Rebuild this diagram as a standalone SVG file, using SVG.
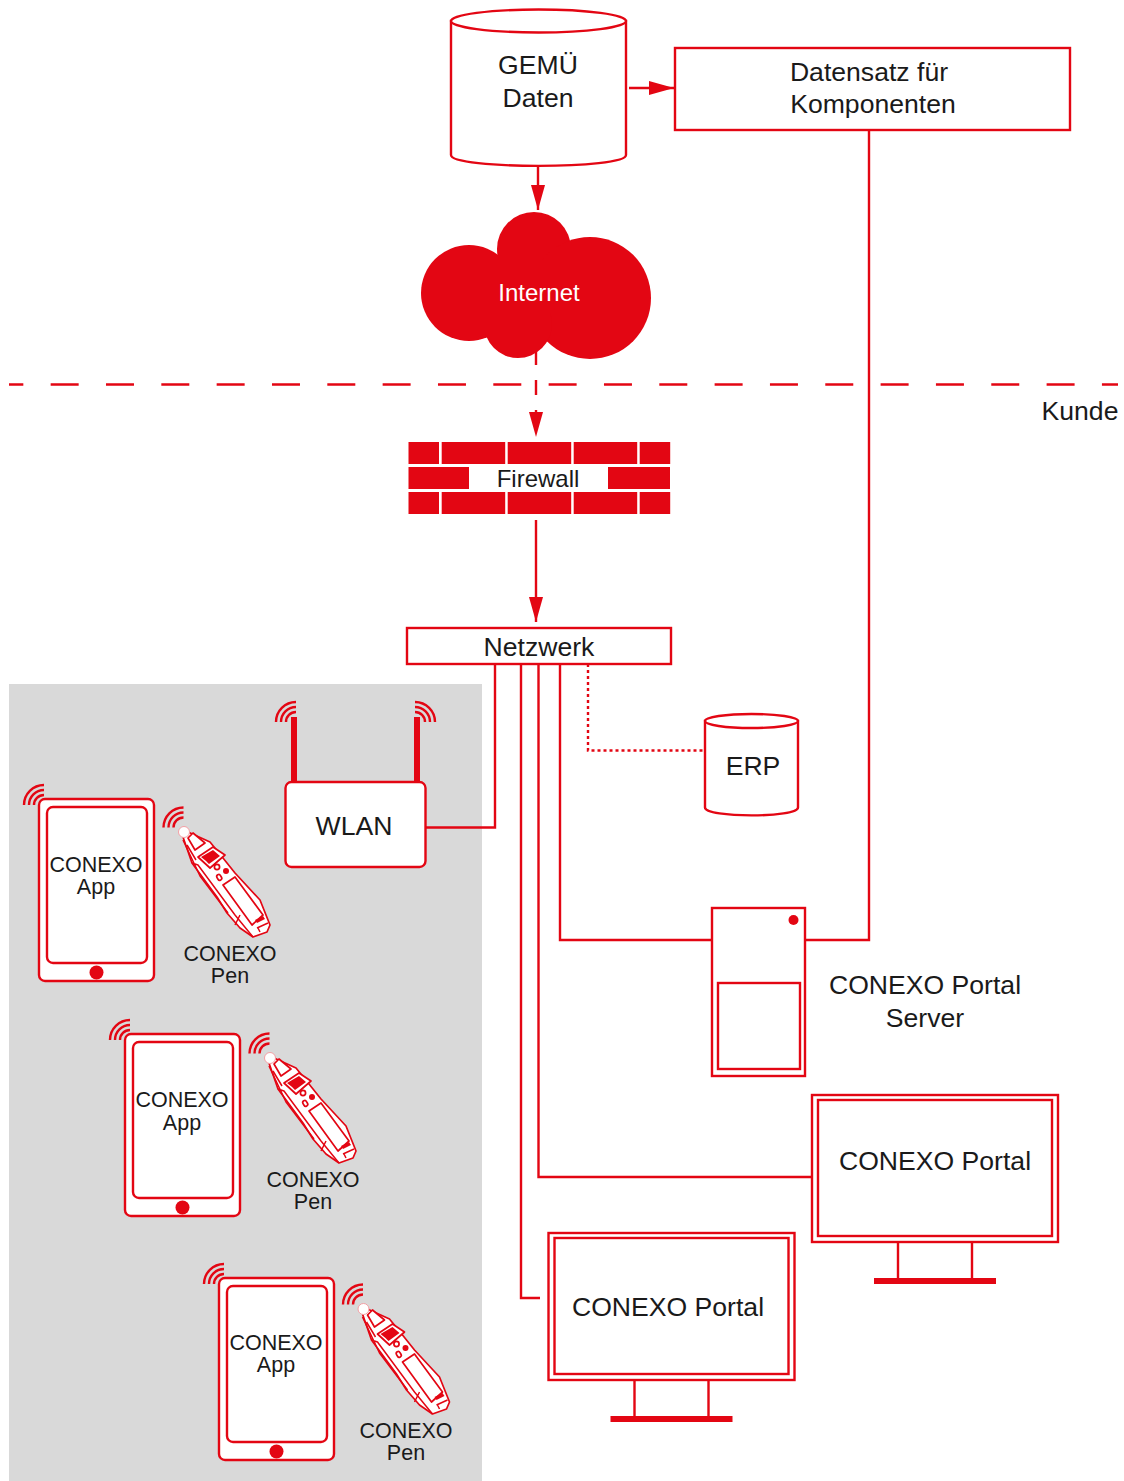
<svg xmlns="http://www.w3.org/2000/svg" xmlns:xlink="http://www.w3.org/1999/xlink" width="1124" height="1481" viewBox="0 0 1124 1481">
<style>
text{font-family:"Liberation Sans",Arial,sans-serif;fill:#1a1a1a;text-anchor:middle}
.t26{font-size:26.6px}.t24{font-size:24px}.t21{font-size:21.5px}
.o{fill:#fff;stroke:#e30613;stroke-width:2.4}
.l{fill:none;stroke:#e30613;stroke-width:2.4}
.f{fill:#e30613}
.w{fill:none;stroke:#e30613;stroke-width:2.4}
.p{fill:#fff;stroke:#e30613;stroke-width:1.700;stroke-linejoin:round}
.q{fill:none;stroke:#e30613;stroke-width:1.500;stroke-linejoin:round}
</style>
<defs>
<marker id="a" markerWidth="26" markerHeight="14" refX="25" refY="7" orient="auto" markerUnits="userSpaceOnUse"><path d="M0 0L25 7L0 14Z" fill="#e30613"/></marker>
<g id="wifi"><path class="w" d="M-10 0A10 10 0 0 1 0-10M-15 0A15 15 0 0 1 0-15M-20 0A20 20 0 0 1 0-20"/></g>
<g id="phone">
<rect class="o" x="39" y="799" width="115" height="182" rx="6"/>
<rect class="o" x="47" y="807" width="100" height="156" rx="6"/>
<circle class="f" cx="96.500" cy="972.500" r="7"/>
<use xlink:href="#wifi" x="44" y="805"/>
</g>
<g id="pen">
<use xlink:href="#wifi" x="183.500" y="827.500"/>
<path class="p" d="M188 832L210 842L223 858L235 873L260 900L270 925L267 932L253 937L240 928L227 913L217 897L203 878L192 863L183 837Z"/>
<path class="q" d="M192 863L198 865L235 915L253 937M187 845L196 860M240 915L235 925M183 840L200 876L228 913"/>
<path class="p" d="M188 838L195 850L205 843L193 833Z"/>
<path class="p" d="M198 857L213 847L225 855L210 868Z"/>
<path class="f" d="M201 857L213 850L220 856L209 864L206 861Z"/>
<circle class="p" cx="217" cy="867" r="2.600"/>
<circle class="f" cx="226" cy="871" r="3"/>
<rect class="p" x="217" y="874.500" width="4" height="6" rx="2" transform="rotate(-30 219 877)"/>
<path class="p" d="M223 885L235 877L263 915L252 925Z"/>
<path class="f" d="M255 920L263 916L265 919L257 923Z"/>
<path class="q" d="M257 928L268 923M260 932L258 928"/>
<circle cx="184" cy="832" r="5.500" fill="#fff" stroke="#f3a0a5" stroke-width="1"/>
</g>
<g id="monitor">
<rect class="o" x="812" y="1095" width="246" height="147"/>
<rect class="o" x="818" y="1100" width="234" height="136"/>
<path class="l" d="M898 1242V1279M972 1242V1279"/>
<rect class="f" x="874" y="1278" width="122" height="6"/>
</g>
</defs>
<rect x="9" y="684" width="473" height="797" fill="#d9d9d9"/>
<g id="connectors">
<path class="l" d="M538 166V210" marker-end="url(#a)"/>
<path class="l" d="M629 88H674" marker-end="url(#a)"/>
<path class="l" stroke-dasharray="28 27.330" stroke-dashoffset="13.670" d="M9 384.500H1118"/>
<path class="l" stroke-dasharray="15 15" d="M536 350V437" marker-end="url(#a)"/>
<path class="l" d="M536 520V622" marker-end="url(#a)"/>
<path class="l" d="M869 131V940H805"/>
<path class="l" d="M560 664V940H712"/>
<path class="l" d="M538.500 664V1177H812"/>
<path class="l" d="M521 664V1298H540"/>
<path class="l" d="M495 664V827.500H426"/>
<path class="l" stroke-dasharray="3 3" d="M588 664V750.500H704"/>
</g>
<g id="gemu">
<path class="o" d="M451 21V155C451 169.500 626 169.500 626 155V21Z"/>
<ellipse class="o" cx="538.500" cy="21" rx="87.500" ry="11.500"/>
<text class="t26" x="538" y="74">GEMÜ</text><text class="t26" x="538" y="107">Daten</text>
</g>
<g id="datensatz">
<rect class="o" x="675" y="48" width="395" height="82"/>
<text class="t26" x="869" y="81">Datensatz für</text><text class="t26" x="873" y="113">Komponenten</text>
</g>
<g id="internet">
<circle class="f" cx="469" cy="293" r="48"/><circle class="f" cx="534" cy="249" r="37"/><circle class="f" cx="590" cy="298" r="61"/><circle class="f" cx="518" cy="324" r="34"/>
<rect class="f" x="470" y="260" width="80" height="70"/>
<text class="t24" x="539" y="301" style="fill:#fff">Internet</text>
</g>
<text class="t26" x="1080" y="420">Kunde</text>
<g id="firewall" class="f">
<rect x="408.500" y="442" width="30.500" height="22"/><rect x="441.700" y="442" width="63.500" height="22"/><rect x="507.700" y="442" width="63.500" height="22"/><rect x="573.700" y="442" width="63.500" height="22"/><rect x="639.700" y="442" width="30.500" height="22"/>
<rect x="408.500" y="467" width="60.500" height="22"/><rect x="608" y="467" width="62" height="22"/>
<rect x="408.500" y="492" width="30.500" height="22"/><rect x="441.700" y="492" width="63.500" height="22"/><rect x="507.700" y="492" width="63.500" height="22"/><rect x="573.700" y="492" width="63.500" height="22"/><rect x="639.700" y="492" width="30.500" height="22"/>
<text class="t24" x="538" y="487">Firewall</text>
</g>
<g id="netzwerk"><rect class="o" x="407" y="628" width="264" height="36"/><text class="t26" x="539" y="656">Netzwerk</text></g>
<g id="erp">
<path class="o" d="M705 721V807.500C705 818 798 818 798 807.500V721Z"/>
<ellipse class="o" cx="751.500" cy="721" rx="46.500" ry="7"/>
<text class="t26" x="753" y="775">ERP</text>
</g>
<g id="wlan">
<rect class="f" x="291" y="717" width="6" height="66"/><rect class="f" x="414" y="717" width="6" height="66"/>
<use xlink:href="#wifi" x="296" y="722"/><use xlink:href="#wifi" x="415" y="722" transform="translate(830 0) scale(-1 1)"/>
<rect class="o" x="285.500" y="782" width="140" height="85" rx="6"/>
<text class="t26" x="354" y="835">WLAN</text>
</g>
<g id="server">
<rect class="o" x="712" y="908" width="93" height="168"/>
<circle class="f" cx="793.500" cy="920" r="5"/>
<rect class="o" x="718" y="983" width="82" height="86"/>
<text class="t26" x="925" y="994">CONEXO Portal</text><text class="t26" x="925" y="1027">Server</text>
</g>
<g id="portal1"><use xlink:href="#monitor"/><text class="t26" x="935" y="1170">CONEXO Portal</text></g>
<g id="portal2"><use xlink:href="#monitor" x="-263.500" y="138"/><text class="t26" x="668" y="1316">CONEXO Portal</text></g>
<g id="app1"><use xlink:href="#phone"/><text class="t21" x="96" y="872">CONEXO</text><text class="t21" x="96" y="894">App</text></g>
<g id="pen1"><use xlink:href="#pen"/><text class="t21" x="230" y="961">CONEXO</text><text class="t21" x="230" y="983">Pen</text></g>
<g id="app2"><use xlink:href="#phone" x="86" y="235"/><text class="t21" x="182" y="1107">CONEXO</text><text class="t21" x="182" y="1130">App</text></g>
<g id="pen2"><use xlink:href="#pen" x="86" y="226"/><text class="t21" x="313" y="1187">CONEXO</text><text class="t21" x="313" y="1209">Pen</text></g>
<g id="app3"><use xlink:href="#phone" x="180" y="479"/><text class="t21" x="276" y="1350">CONEXO</text><text class="t21" x="276" y="1372">App</text></g>
<g id="pen3"><use xlink:href="#pen" x="179.500" y="477"/><text class="t21" x="406" y="1438">CONEXO</text><text class="t21" x="406" y="1460">Pen</text></g>
</svg>
